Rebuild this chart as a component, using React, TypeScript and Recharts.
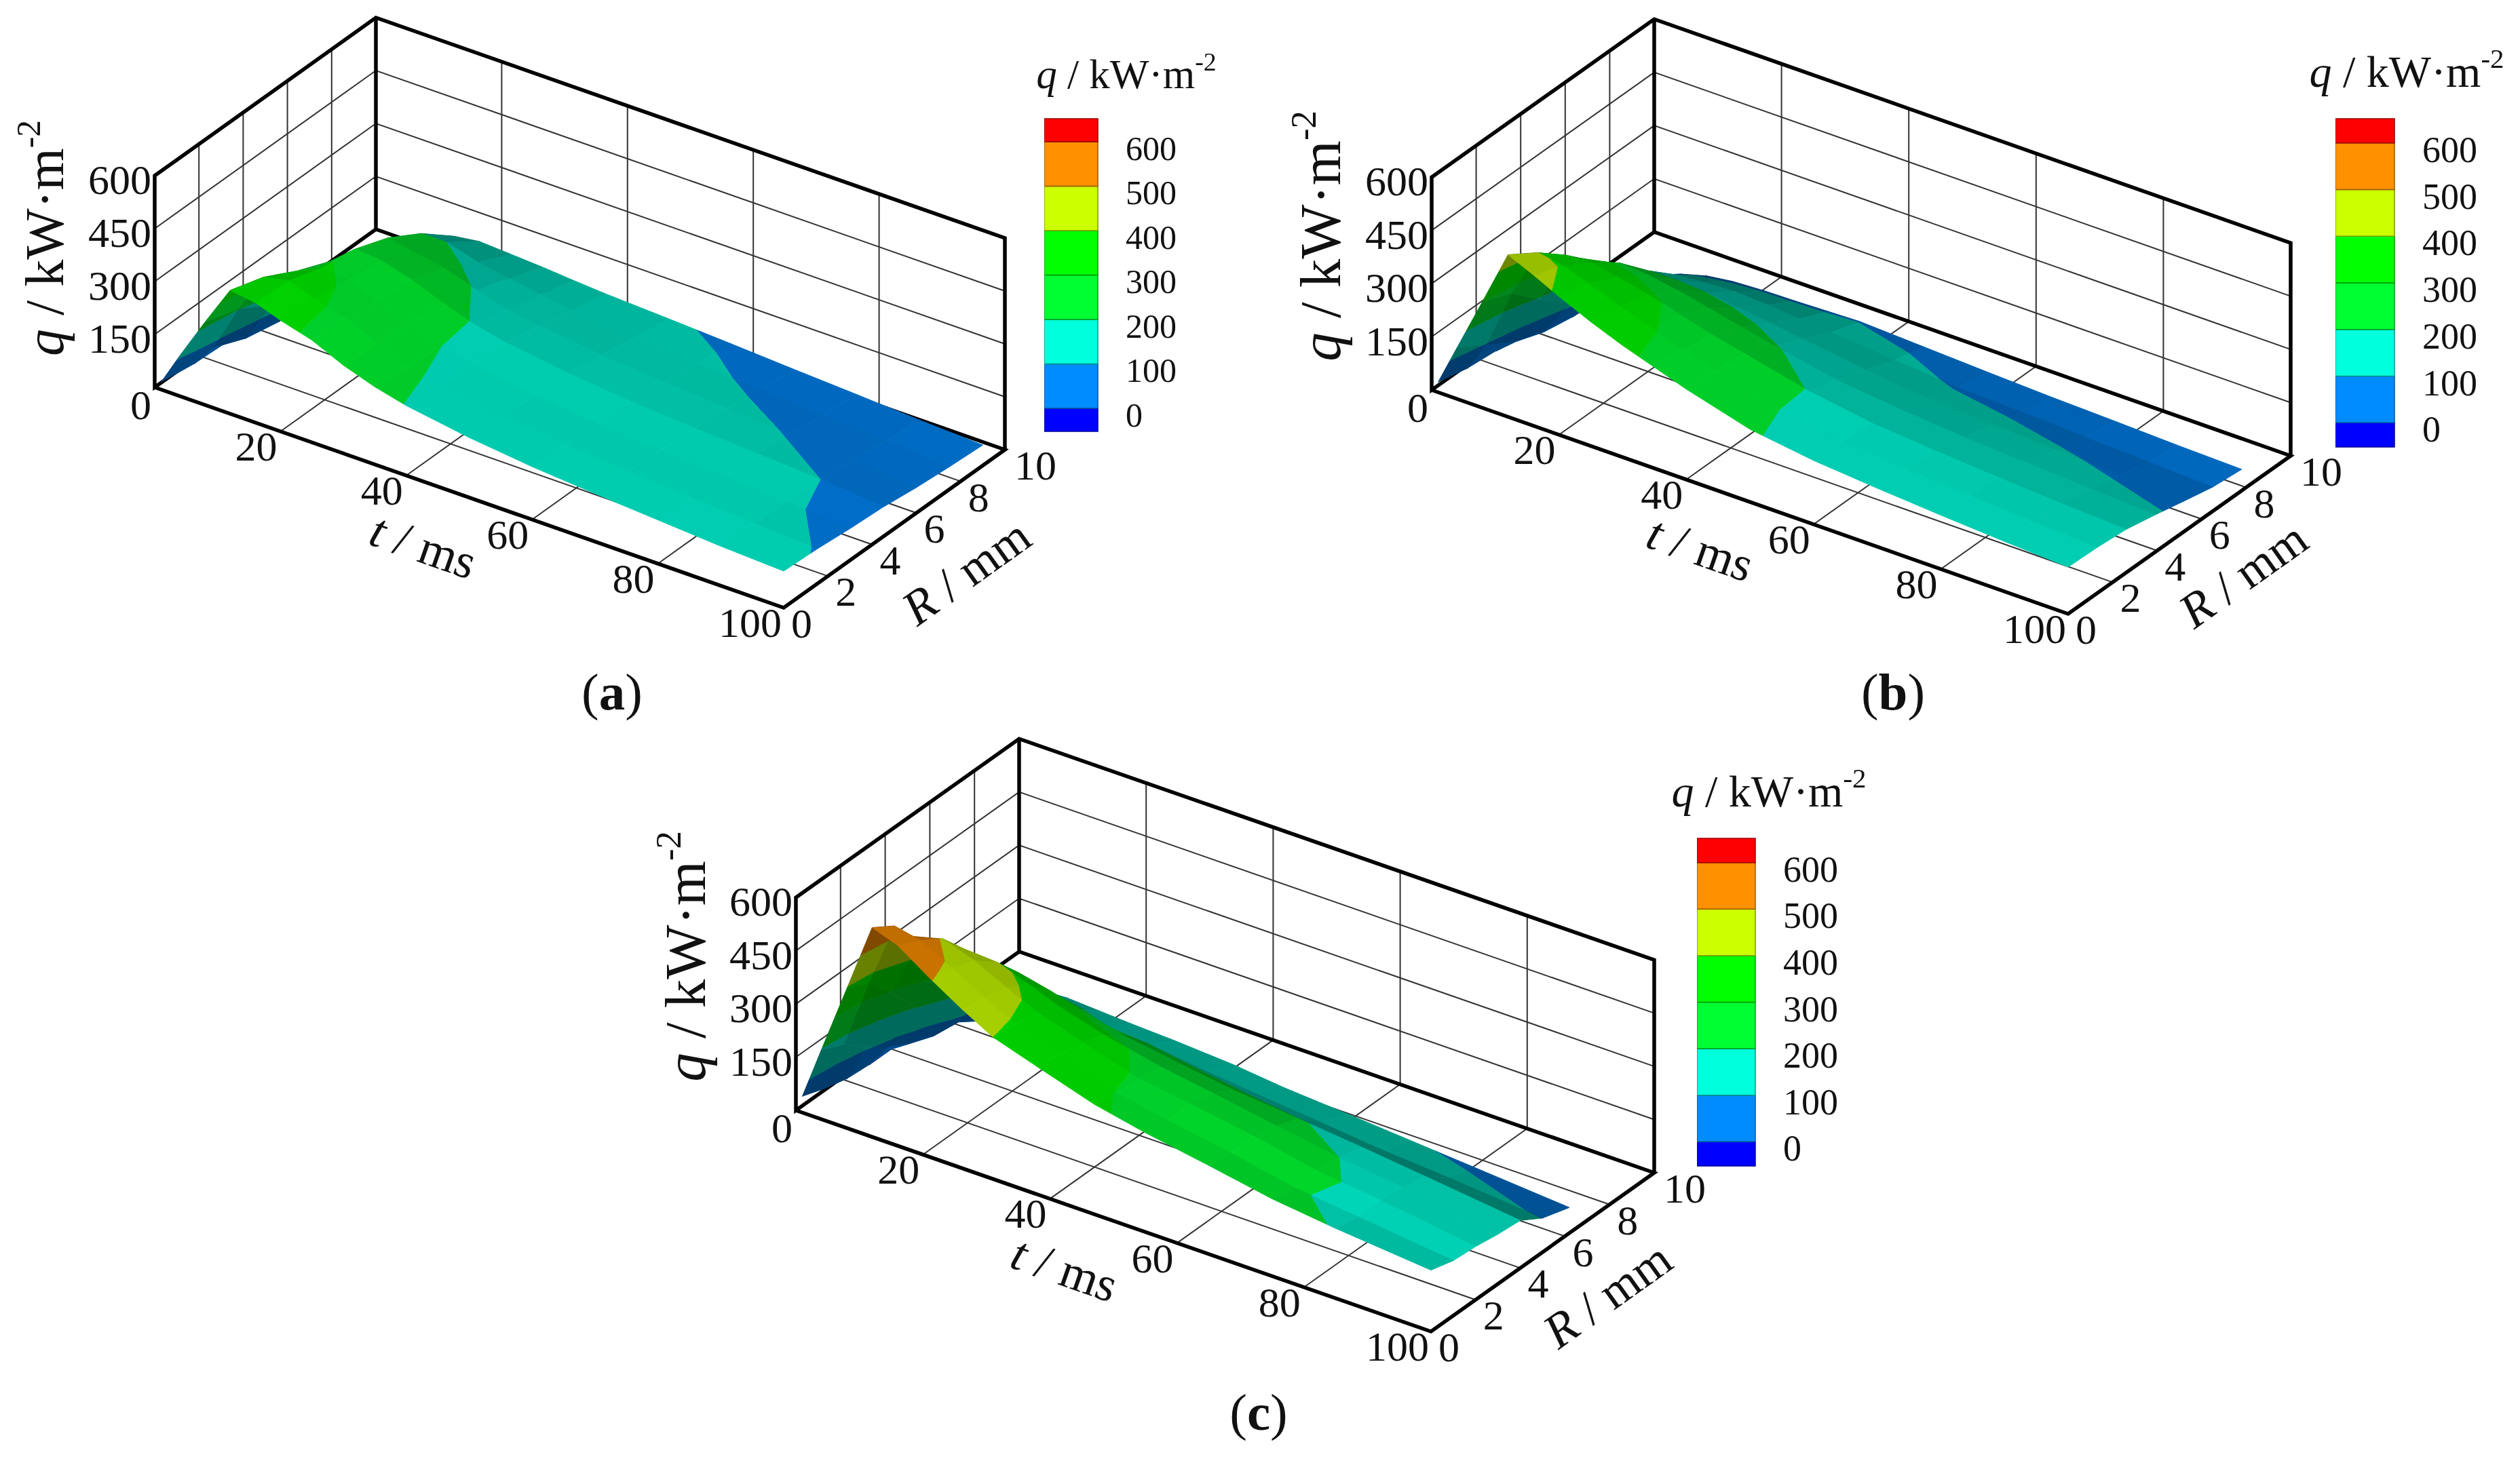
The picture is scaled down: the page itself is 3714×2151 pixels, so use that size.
import { Scatter, ScatterChart, XAxis, YAxis } from "recharts";

// Werte: q in kW/m2, Zeilen = t in ms, Spalten = R in mm
const TIMES_A = [1, 4, 8, 12, 16, 20, 25, 30, 35, 40, 50, 60, 70, 80, 90, 100];
const RADII_A = [0, 1.5, 3, 4.5, 6, 7.5, 9];
const HEAT_A = [
  [20, 5, 0, 0, 0, 0, 0],
  [115, 70, 30, 10, 0, 0, 0],
  [235, 205, 150, 100, 60, 20, 5],
  [350, 320, 270, 230, 190, 130, 70],
  [340, 335, 305, 290, 255, 200, 125],
  [315, 310, 295, 285, 240, 200, 135],
  [290, 285, 270, 260, 225, 175, 130],
  [250, 245, 235, 225, 195, 160, 125],
  [220, 210, 200, 195, 170, 145, 118],
  [198, 190, 182, 175, 155, 132, 112],
  [170, 163, 155, 150, 135, 118, 104],
  [150, 145, 137, 132, 120, 106, 95],
  [136, 132, 125, 120, 108, 95, 85],
  [124, 120, 114, 110, 98, 86, 76],
  [112, 110, 104, 100, 88, 76, 66],
  [104, 99, 90, 84, 72, 64, 58],
];

const TIMES_B = [1, 4, 8, 12, 16, 20, 25, 30, 35, 40, 50, 60, 70, 80, 90, 100];
const RADII_B = [0, 1.3, 2.6, 3.9, 5.2, 6.5, 7.8];
const HEAT_B = [
  [28, 8, 0, 0, 0, 0, 0],
  [145, 95, 45, 15, 0, 0, 0],
  [300, 265, 190, 120, 70, 25, 5],
  [457, 405, 340, 265, 185, 110, 55],
  [425, 395, 345, 285, 205, 135, 75],
  [390, 370, 330, 280, 205, 140, 85],
  [350, 335, 310, 265, 200, 145, 90],
  [315, 305, 285, 245, 190, 140, 92],
  [285, 275, 260, 225, 178, 132, 95],
  [255, 248, 240, 205, 165, 125, 98],
  [205, 200, 198, 170, 140, 110, 90],
  [180, 176, 170, 150, 120, 96, 82],
  [165, 161, 155, 135, 112, 90, 75],
  [152, 149, 142, 124, 104, 82, 70],
  [141, 138, 131, 114, 95, 75, 64],
  [132, 129, 122, 105, 86, 68, 60],
];

const TIMES_C = [1, 4, 8, 12, 16, 21, 26, 31, 38, 47, 55, 65, 75, 85, 100];
const RADII_C = [0, 1, 2, 3, 4, 5, 6.2];
const HEAT_C = [
  [45, 22, 5, 0, 0, 0, 0],
  [195, 165, 115, 70, 35, 10, 0],
  [392, 365, 290, 210, 130, 75, 25],
  [590, 550, 450, 350, 265, 190, 110],
  [565, 535, 495, 420, 330, 245, 155],
  [505, 490, 465, 415, 340, 245, 170],
  [450, 440, 420, 385, 320, 225, 165],
  [400, 392, 380, 350, 295, 205, 160],
  [360, 350, 340, 315, 265, 200, 155],
  [310, 298, 292, 280, 240, 180, 145],
  [280, 270, 272, 258, 220, 165, 130],
  [250, 240, 243, 228, 203, 148, 118],
  [218, 205, 208, 200, 185, 130, 105],
  [197, 185, 187, 178, 165, 118, 92],
  [173, 155, 150, 140, 134, 96, 72],
];

const T_TICKS = [20, 40, 60, 80, 100];
const R_TICKS = [0, 2, 4, 6, 8, 10];
const Q_TICKS = [0, 150, 300, 450, 600];
const LEGEND_TICKS = [0, 100, 200, 300, 400, 500, 600];
const BAND_EDGES = [-52, 0, 100, 200, 300, 400, 500, 600, 652];
const BAND_COLORS = [
  [0, 0, 255],
  [0, 140, 255],
  [0, 255, 220],
  [0, 255, 50],
  [0, 255, 0],
  [204, 255, 0],
  [255, 145, 0],
  [255, 0, 0],
];

const SERIF = "Liberation Serif";

const PANELS = [
  {
    name: "a", times: TIMES_A, radii: RADII_A, heat: HEAT_A,
    box: { left: 0, top: 0, w: 1857, h: 1110 },
    origin: [228, 571], tv: [9.27, 3.25], rv: [32.6, -23.3], qk: 0.52,
    bar: { x: 1539, w: 79, y: 175, h: 461 }, legendFont: 50, legendTitle: [1660, 130, 61],
    qTitle: [-135, -220, 80], caption: [902, 1046],
  },
  {
    name: "b", times: TIMES_B, radii: RADII_B, heat: HEAT_B,
    box: { left: 1857, top: 0, w: 1857, h: 1110 },
    origin: [2110, 575], tv: [9.38, 3.3], rv: [32.8, -23.3], qk: 0.523,
    bar: { x: 3442, w: 87, y: 175, h: 484 }, legendFont: 54, legendTitle: [3547, 128, 66],
    qTitle: [-135, -227, 85], caption: [2790, 1046],
  },
  {
    name: "c", times: TIMES_C, radii: RADII_C, heat: HEAT_C,
    box: { left: 900, top: 1060, w: 1950, h: 1090 },
    origin: [1173, 1637], tv: [9.36, 3.26], rv: [32.9, -23.4], qk: 0.523,
    bar: { x: 2501, w: 86, y: 1236, h: 483 }, legendFont: 54, legendTitle: [2607, 1189, 66],
    qTitle: [-134, -227, 85], caption: [1855, 2108],
  },
];

type Vert = { t: number; R: number; q: number };

// Polygon auf ein q-Band zuschneiden (Sutherland-Hodgman)
function clipAt(poly: Vert[], level: number, keepAbove: boolean) {
  const out: Vert[] = [];
  poly.forEach((a, i) => {
    const b = poly[(i + 1) % poly.length];
    const inA = keepAbove ? a.q >= level : a.q <= level;
    const inB = keepAbove ? b.q >= level : b.q <= level;
    if (inA) out.push(a);
    if (inA !== inB) {
      const f = (level - a.q) / (b.q - a.q);
      out.push({ t: a.t + (b.t - a.t) * f, R: a.R + (b.R - a.R) * f, q: level });
    }
  });
  return out;
}

// Streifen laufen im Original entlang t, also relative Steigung in R nehmen
function cellShade(dqdt: number, dqdR: number, meanQ: number) {
  const nt = -dqdt * (dqdt > 0 ? 0.03 : 0.012);
  const nR = (-dqdR / Math.max(meanQ, 100)) * 3.5;
  const len = Math.sqrt(nt * nt + nR * nR + 1);
  const dot = (nt * 0.25 - nR * 0.55 + 0.8) / len;
  return 0.42 + 0.5 * Math.max(0, dot);
}

function surfacePolys(p: (typeof PANELS)[number]) {
  const polys: { verts: Vert[]; fill: string }[] = [];
  const { times, radii, heat } = p;
  // von hinten nach vorn zeichnen: t aufsteigend, R absteigend
  for (let i = 0; i < times.length - 1; i++) {
    for (let j = radii.length - 2; j >= 0; j--) {
      const quad: Vert[] = [
        { t: times[i], R: radii[j], q: heat[i][j] },
        { t: times[i + 1], R: radii[j], q: heat[i + 1][j] },
        { t: times[i + 1], R: radii[j + 1], q: heat[i + 1][j + 1] },
        { t: times[i], R: radii[j + 1], q: heat[i][j + 1] },
      ];
      const dqdt = (quad[1].q + quad[2].q - quad[0].q - quad[3].q) / 2 / (times[i + 1] - times[i]);
      const dqdR = (quad[2].q + quad[3].q - quad[0].q - quad[1].q) / 2 / (radii[j + 1] - radii[j]);
      const meanQ = (quad[0].q + quad[1].q + quad[2].q + quad[3].q) / 4;
      const s = cellShade(dqdt, dqdR, meanQ);
      BAND_COLORS.forEach((c, k) => {
        let v = clipAt(quad, BAND_EDGES[k], true);
        if (v.length) v = clipAt(v, BAND_EDGES[k + 1], false);
        if (v.length >= 3) {
          polys.push({
            verts: v,
            fill: `rgb(${Math.round(c[0] * s)},${Math.round(c[1] * s)},${Math.round(c[2] * s)})`,
          });
        }
      });
    }
  }
  return polys;
}

const noDot = () => <g />;

function TextMark(props: any) {
  const { cx, cy, payload } = props;
  const { text, size, anchor = "middle" } = payload;
  return (
    <text x={cx} y={cy} fontFamily={SERIF} fontSize={size} textAnchor={anchor} fill="#111">
      {text}
    </text>
  );
}

// "q / kW·m-2" und "t / ms" mit kursiver Variable
function TitleMark(props: any) {
  const { cx, cy, payload } = props;
  const { name, unit, sup, size, rotate = 0 } = payload;
  return (
    <text
      x={cx}
      y={cy}
      fontFamily={SERIF}
      fontSize={size}
      textAnchor="middle"
      fill="#111"
      transform={rotate ? `rotate(${rotate} ${cx} ${cy})` : undefined}
    >
      <tspan fontStyle="italic">{name}</tspan>
      <tspan xmlSpace="preserve">{` / ${unit}`}</tspan>
      {sup ? (
        <tspan dy={-size * 0.42} fontSize={size * 0.62}>
          {sup}
        </tspan>
      ) : null}
    </text>
  );
}

function CaptionMark(props: any) {
  const { cx, cy, payload } = props;
  return (
    <text x={cx} y={cy} fontFamily={SERIF} fontSize={payload.size} textAnchor="middle" fill="#111">
      (<tspan fontWeight="bold">{payload.letter}</tspan>)
    </text>
  );
}

function Panel({ p }: { p: (typeof PANELS)[number] }) {
  const { box, origin, tv, rv, qk } = p;
  const pt = (t: number, R: number, q: number, dx = 0, dy = 0) => ({
    sx: origin[0] - box.left + t * tv[0] + R * rv[0] + dx,
    sy: origin[1] - box.top + t * tv[1] + R * rv[1] - q * qk + dy,
  });

  const thick: [number, number, number][][] = [
    [[0, 0, 0], [100, 0, 0], [100, 10, 0], [0, 10, 0], [0, 0, 0], [0, 0, 600], [0, 10, 600], [100, 10, 600], [100, 10, 0]],
    [[0, 10, 0], [0, 10, 600]],
  ];
  const thin: [number, number, number][][] = [];
  [20, 40, 60, 80].forEach((t) => {
    thin.push([[t, 0, 0], [t, 10, 0], [t, 10, 600]]);
  });
  [2, 4, 6, 8].forEach((R) => {
    thin.push([[100, R, 0], [0, R, 0], [0, R, 600]]);
  });
  [150, 300, 450].forEach((q) => {
    thin.push([[0, 0, q], [0, 10, q], [100, 10, q]]);
  });

  const polys = surfacePolys(p);

  const tLabels = T_TICKS.map((t) => ({ ...pt(t, 0, 0, t === 100 ? -3 : -36, 43), text: String(t), size: 62, anchor: t === 100 ? "end" : "middle" }));
  const rLabels = R_TICKS.map((R) => ({ ...pt(100, R, 0, R === 10 ? 14 : 11, 44), text: String(R), size: 62, anchor: "start" }));
  const qLabels = Q_TICKS.map((q) => ({ ...pt(0, 0, q, -5, q === 0 ? 47 : 27), text: String(q), size: 62, anchor: "end" }));

  return (
    <div style={{ position: "absolute", left: box.left, top: box.top }}>
      <ScatterChart width={box.w} height={box.h} margin={{ top: 0, right: 0, bottom: 0, left: 0 }}>
        <XAxis type="number" dataKey="sx" domain={[0, box.w]} hide allowDataOverflow />
        <YAxis type="number" dataKey="sy" domain={[0, box.h]} reversed hide allowDataOverflow />
        {thin.map((path, i) => (
          <Scatter
            key={`thin${i}`}
            data={path.map((v) => pt(v[0], v[1], v[2]))}
            shape={noDot}
            line={{ stroke: "#333", strokeWidth: 2, fill: "none" }}
            isAnimationActive={false}
          />
        ))}
        {thick.map((path, i) => (
          <Scatter
            key={`thick${i}`}
            data={path.map((v) => pt(v[0], v[1], v[2]))}
            shape={noDot}
            line={{ stroke: "#000", strokeWidth: 5.5, fill: "none", strokeLinejoin: "miter" }}
            isAnimationActive={false}
          />
        ))}
        {polys.map((poly, i) => (
          <Scatter
            key={`cell${i}`}
            data={poly.verts.map((v) => pt(v.t, v.R, v.q))}
            shape={noDot}
            line={{ fill: poly.fill, stroke: poly.fill, strokeWidth: 1 }}
            isAnimationActive={false}
          />
        ))}
        <Scatter data={[...tLabels, ...rLabels, ...qLabels]} shape={TextMark} isAnimationActive={false} />
        <Scatter
          data={[
            { ...pt(0, 0, 0, 388, 257), name: "t", unit: "ms", size: 72, rotate: 19.3 },
            { ...pt(0, 0, 0, 1210, 292), name: "R", unit: "mm", size: 72, rotate: -35.5 },
            { ...pt(0, 0, 0, p.qTitle[0], p.qTitle[1]), name: "q", unit: "kW·m", sup: "-2", size: p.qTitle[2], rotate: -90 },
            { sx: p.legendTitle[0] - box.left, sy: p.legendTitle[1] - box.top, name: "q", unit: "kW·m", sup: "-2", size: p.legendTitle[2] },
          ]}
          shape={TitleMark}
          isAnimationActive={false}
        />
        <Scatter
          data={[{ sx: p.caption[0] - box.left, sy: p.caption[1] - box.top, letter: p.name, size: 77 }]}
          shape={CaptionMark}
          isAnimationActive={false}
        />
      </ScatterChart>
    </div>
  );
}

function ColorBar({ p }: { p: (typeof PANELS)[number] }) {
  const { bar } = p;
  const pad = 40;
  return (
    <div style={{ position: "absolute", left: bar.x, top: bar.y - pad }}>
      <ScatterChart width={bar.w + 150} height={bar.h + 2 * pad} margin={{ top: pad, right: 0, bottom: pad, left: 0 }}>
        <XAxis type="number" dataKey="x" domain={[0, 1]} hide />
        <YAxis
          type="number"
          dataKey="y"
          orientation="right"
          width={150}
          domain={[BAND_EDGES[0], BAND_EDGES[BAND_EDGES.length - 1]]}
          ticks={LEGEND_TICKS}
          interval={0}
          axisLine={false}
          tickLine={false}
          tickSize={0}
          tickMargin={41}
          tick={{ fontFamily: SERIF, fontSize: p.legendFont, fill: "#111", dy: 9 }}
        />
        {BAND_COLORS.map((c, k) => {
          const fill = `rgb(${c[0]},${c[1]},${c[2]})`;
          const edge = `rgb(${c[0] * 0.6},${c[1] * 0.6},${c[2] * 0.6})`;
          return (
            <Scatter
              key={k}
              data={[
                { x: 0, y: BAND_EDGES[k] },
                { x: 1, y: BAND_EDGES[k] },
                { x: 1, y: BAND_EDGES[k + 1] },
                { x: 0, y: BAND_EDGES[k + 1] },
                { x: 0, y: BAND_EDGES[k] },
              ]}
              shape={noDot}
              line={{ fill, stroke: edge, strokeWidth: 1.5 }}
              isAnimationActive={false}
            />
          );
        })}
      </ScatterChart>
    </div>
  );
}

export default function App() {
  return (
    <div style={{ position: "absolute", left: 0, top: 0, width: 3714, height: 2151, background: "#fff", filter: "blur(0.7px)" }}>
      {PANELS.map((p) => (
        <Panel key={p.name} p={p} />
      ))}
      {PANELS.map((p) => (
        <ColorBar key={p.name} p={p} />
      ))}
    </div>
  );
}
